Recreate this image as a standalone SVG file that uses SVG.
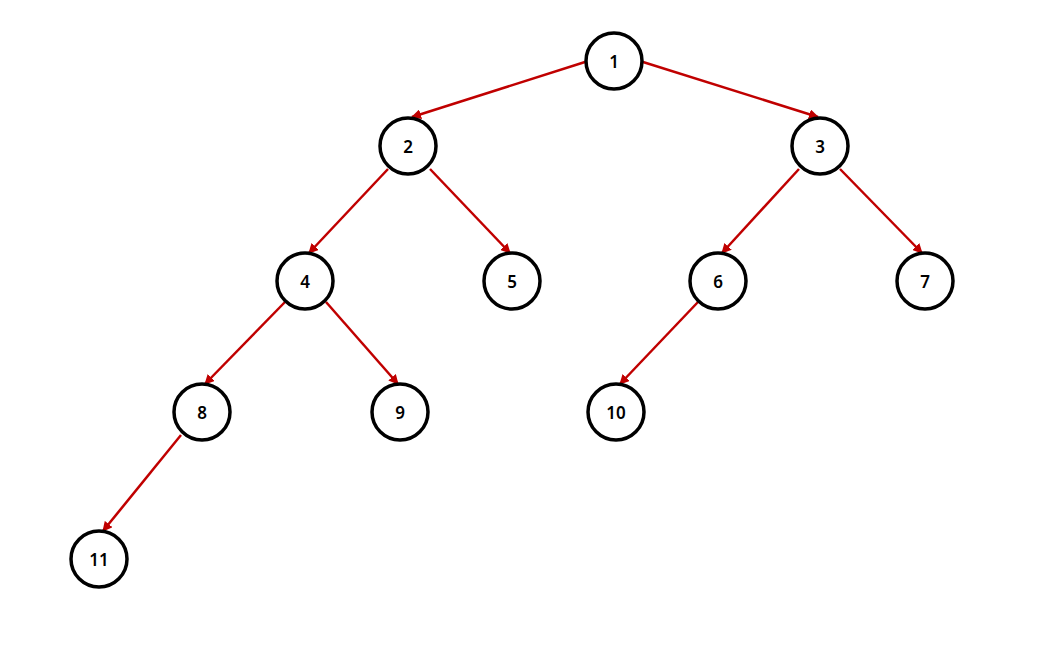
<svg xmlns="http://www.w3.org/2000/svg" width="1042" height="660" viewBox="0 0 1042 660">
<style>
.n circle{fill:#fff;stroke:#000;stroke-width:3.5}
.n text{font-family:"Noto Sans","Open Sans",sans-serif;font-size:17px;font-weight:600;fill:#000;text-anchor:middle;dominant-baseline:central}
.e line{stroke:#c00000;stroke-width:2.5;fill:none;marker-end:url(#ah)}
</style>
<defs>
<marker id="ah" viewBox="0 0 10 10" refX="9" refY="5" markerWidth="4" markerHeight="4" markerUnits="strokeWidth" orient="auto">
<path d="M0,0 L10,5 L0,10 z" fill="#c00000"/>
</marker>
</defs>
<rect width="1042" height="660" fill="#fff"/>
<g id="edges" class="e">
<line x1="585" y1="62" x2="412" y2="117"/>
<line x1="643" y1="62" x2="818" y2="117"/>
<line x1="388" y1="169" x2="309" y2="253"/>
<line x1="430" y1="169" x2="510" y2="253"/>
<line x1="799" y1="169" x2="722" y2="253"/>
<line x1="840" y1="169" x2="922" y2="253"/>
<line x1="285" y1="302" x2="205" y2="384"/>
<line x1="326" y1="302" x2="398" y2="384"/>
<line x1="698" y1="302" x2="620" y2="384"/>
<line x1="181" y1="435" x2="103" y2="531"/>
</g>
<g id="n1" class="n"><circle cx="614" cy="61" r="28"/><text x="614" y="61">1</text></g>
<g id="n2" class="n"><circle cx="408" cy="146" r="28"/><text x="408" y="146">2</text></g>
<g id="n3" class="n"><circle cx="820" cy="146" r="28"/><text x="820" y="146">3</text></g>
<g id="n4" class="n"><circle cx="305" cy="281" r="28"/><text x="305" y="281">4</text></g>
<g id="n5" class="n"><circle cx="512" cy="281" r="28"/><text x="512" y="281">5</text></g>
<g id="n6" class="n"><circle cx="718" cy="281" r="28"/><text x="718" y="281">6</text></g>
<g id="n7" class="n"><circle cx="925" cy="281" r="28"/><text x="925" y="281">7</text></g>
<g id="n8" class="n"><circle cx="202" cy="412" r="28"/><text x="202" y="412">8</text></g>
<g id="n9" class="n"><circle cx="400" cy="412" r="28"/><text x="400" y="412">9</text></g>
<g id="n10" class="n"><circle cx="616" cy="412" r="28"/><text x="616" y="412">10</text></g>
<g id="n11" class="n"><circle cx="99" cy="559" r="28"/><text x="99" y="559">11</text></g>
</svg>
